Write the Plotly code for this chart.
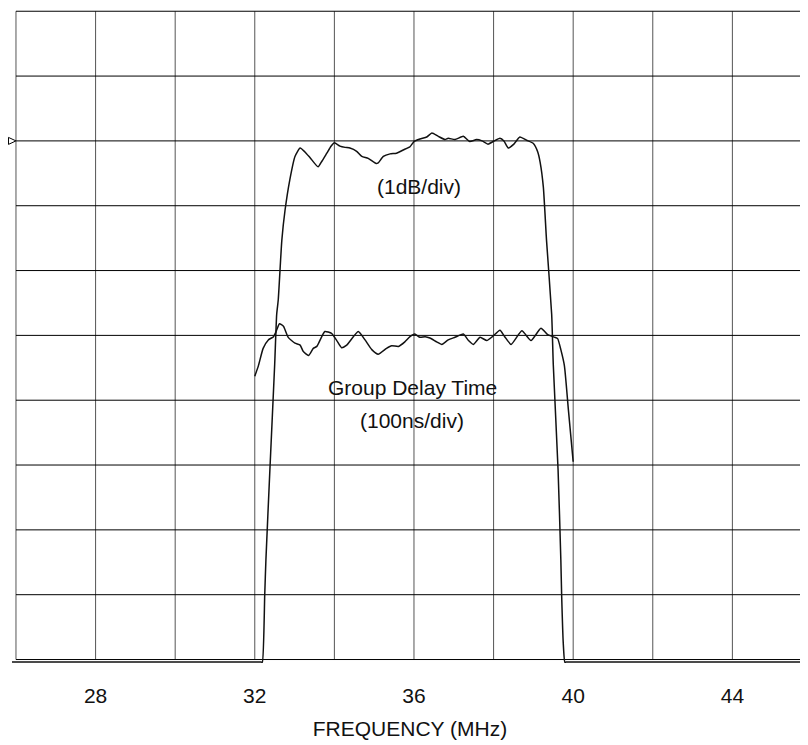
import plotly.graph_objects as go

# Frequency axis (MHz) and vertical divisions
x_ticks = [28, 32, 36, 40, 44]
x_grid = [26, 28, 30, 32, 34, 36, 38, 40, 42, 44, 46]
y_grid = [0, 1, 2, 3, 4, 5, 6, 7, 8, 9, 10]

# Amplitude response trace (1 dB/div), in divisions
amp_freq = [25.9, 32.00, 32.16, 32.19, 32.25, 32.28, 32.38, 32.50, 32.55, 32.59, 32.68, 32.76, 32.88, 33.01,
            33.14, 33.26, 33.39, 33.59, 33.69, 33.81, 33.92, 34.00, 34.14, 34.27, 34.39,
            34.56, 34.69, 34.85, 35.05, 35.10, 35.23, 35.40, 35.56, 35.73, 35.90, 36.00,
            36.15, 36.32, 36.45, 36.61, 36.78, 36.86, 37.03, 37.24, 37.40, 37.57, 37.71,
            37.86, 37.99, 38.16, 38.26, 38.37, 38.51, 38.66, 38.83, 39.00, 39.11, 39.17,
            39.25, 39.33, 39.46, 39.50, 39.62, 39.69, 39.71, 39.75, 39.79, 39.82, 40.00, 46.0]
amp_div = [-0.04, -0.04, -0.04, -0.04, 1.00, 1.54, 2.93, 4.55, 5.32, 5.55, 6.47, 6.93, 7.40, 7.76,
           7.89, 7.83, 7.74, 7.60, 7.69, 7.81, 7.92, 7.97, 7.92, 7.90, 7.89,
           7.84, 7.76, 7.73, 7.65, 7.66, 7.76, 7.80, 7.81, 7.86, 7.91, 7.99,
           8.03, 8.06, 8.12, 8.07, 8.02, 8.04, 8.02, 8.07, 7.99, 8.02, 8.00,
           7.95, 7.99, 8.04, 8.00, 7.89, 7.95, 8.06, 8.01, 7.96, 7.83, 7.67,
           7.29, 6.47, 5.32, 4.55, 2.93, 1.54, 1.00, 0.26, -0.04, -0.04, -0.04, -0.04]

# Group delay trace (100 ns/div), in divisions
gd_freq = [32.00, 32.09, 32.21, 32.34, 32.47, 32.53, 32.62, 32.72, 32.84, 33.01, 33.14,
           33.22, 33.35, 33.47, 33.56, 33.76, 33.93, 34.06, 34.18, 34.31, 34.60, 34.77,
           34.94, 35.10, 35.31, 35.44, 35.61, 35.77, 35.90, 36.02, 36.15, 36.28, 36.40,
           36.57, 36.70, 36.86, 37.03, 37.24, 37.37, 37.49, 37.66, 37.83, 37.97, 38.16,
           38.28, 38.44, 38.71, 38.94, 39.19, 39.36, 39.54, 39.61, 39.69, 39.78, 39.88,
           40.00]
gd_div = [4.37, 4.53, 4.80, 4.93, 4.98, 5.05, 5.18, 5.14, 4.97, 4.88, 4.85,
          4.75, 4.69, 4.80, 4.83, 5.06, 5.03, 4.92, 4.81, 4.85, 5.06, 4.93,
          4.78, 4.71, 4.80, 4.84, 4.83, 4.90, 4.98, 5.02, 4.97, 4.98, 4.96,
          4.90, 4.86, 4.93, 4.97, 5.02, 4.92, 4.86, 4.97, 4.92, 4.98, 5.08,
          4.98, 4.86, 5.07, 4.92, 5.11, 5.01, 4.97, 4.95, 4.78, 4.53, 3.85,
          3.05]

ref_level_div = 8

FONT = "Liberation Sans, Arial, sans-serif"
X_RANGE = [25.9, 45.9]
Y_RANGE = [-0.1, 10.05]

fig = go.Figure()

shapes = []
for gx in x_grid:
    shapes.append(dict(type="line", xref="x", yref="y", x0=gx, x1=gx, y0=0, y1=10,
                       line=dict(color="#555555", width=1), layer="below"))
for gy in y_grid:
    shapes.append(dict(type="line", xref="x", yref="y", x0=26, x1=46, y0=gy, y1=gy,
                       line=dict(color="#000000", width=1), layer="below"))

# reference-level marker (open triangle) just left of the grid
shapes.append(dict(type="path", xref="paper", yref="paper",
                   xsizemode="pixel", ysizemode="pixel",
                   xanchor=(26 - X_RANGE[0]) / (X_RANGE[1] - X_RANGE[0]),
                   yanchor=(ref_level_div - Y_RANGE[0]) / (Y_RANGE[1] - Y_RANGE[0]),
                   path="M-7.5,-3.5 L0,0 L-7.5,3.5 Z",
                   line=dict(color="#000000", width=1), fillcolor="white", layer="above"))

fig.add_trace(go.Scatter(x=amp_freq, y=amp_div, mode="lines",
                         line=dict(color="#111111", width=1.5, shape="spline", smoothing=0.5),
                         hoverinfo="skip"))
fig.add_trace(go.Scatter(x=gd_freq, y=gd_div, mode="lines",
                         line=dict(color="#111111", width=1.5, shape="spline", smoothing=0.5),
                         hoverinfo="skip"))

annos = [
    dict(x=36.13, y=7.30, text="(1dB/div)"),
    dict(x=35.96, y=4.19, text="Group Delay Time"),
    dict(x=35.96, y=3.68, text="(100ns/div)"),
]
annotations = [dict(xref="x", yref="y", x=a["x"], y=a["y"], text=a["text"], showarrow=False,
                    font=dict(family=FONT, size=21, color="#111111"),
                    xanchor="center", yanchor="middle") for a in annos]

fig.update_layout(
    width=800, height=737,
    margin=dict(l=4, r=0, t=0, b=79),
    paper_bgcolor="white", plot_bgcolor="white",
    showlegend=False,
    shapes=shapes,
    annotations=annotations,
    font=dict(family=FONT, color="#111111"),
    xaxis=dict(range=X_RANGE, showgrid=False, zeroline=False, showline=False,
               tickmode="array", tickvals=x_ticks, ticktext=[str(v) for v in x_ticks],
               ticks="outside", ticklen=11, tickcolor="rgba(0,0,0,0)",
               tickfont=dict(family=FONT, size=21, color="#111111"),
               title=dict(text="FREQUENCY (MHz)", font=dict(family=FONT, size=21, color="#111111"),
                          standoff=15)),
    yaxis=dict(range=Y_RANGE, showgrid=False, zeroline=False, showline=False,
               showticklabels=False, ticks=""),
)

fig.write_html("out.html")
